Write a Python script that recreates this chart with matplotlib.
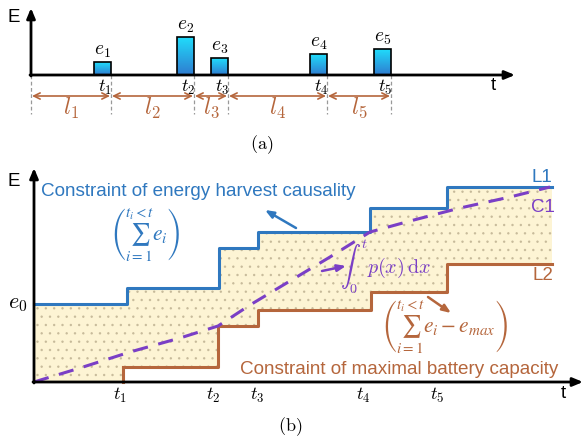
import matplotlib
matplotlib.use("Agg")
import matplotlib.pyplot as plt
import numpy as np
from matplotlib.colors import LinearSegmentedColormap

plt.rcParams['mathtext.fontset'] = 'cm'
plt.rcParams['font.family'] = ['Liberation Sans', 'DejaVu Sans']
plt.rcParams['hatch.linewidth'] = 0.6

# ---------------- data (pixel-space diagram coordinates) ----------------
# top panel: harvest events
top_t = [111, 194, 228, 327, 391]          # event times (right edge of bars)
top_e = [13, 38, 17, 21, 26]               # harvested energy heights
e_labels = [r'$e_1$', r'$e_2$', r'$e_3$', r'$e_4$', r'$e_5$']
t_labels = [r'$t_1$', r'$t_2$', r'$t_3$', r'$t_4$', r'$t_5$']
l_labels = [r'$l_1$', r'$l_2$', r'$l_3$', r'$l_4$', r'$l_5$']

# bottom panel: step constraints
L1_x = [34, 127, 219, 258, 370, 447, 552]
L1_y = [304, 288, 248, 232, 208, 187]
L2_x = [34, 123, 218, 258, 371, 447, 552]
L2_y = [382, 367, 326, 310, 292, 264]
C1_x = [34, 80, 130, 180, 218, 250, 290, 330, 370, 410, 460, 510, 550]
C1_y = [382, 368, 352, 338, 326, 305, 281, 257, 232, 221, 208, 197, 187]
bot_t = [120, 213, 257, 363, 437]

BLUE = '#2f78bf'
BROWN = '#b5663c'
PURPLE = '#7a3fc6'

fig = plt.figure(figsize=(5.83, 4.40), dpi=100)
ax = fig.add_axes([0, 0, 1, 1])
ax.set_xlim(0, 583)
ax.set_ylim(440, 0)
ax.axis('off')

AST = '-|>,head_width=0.25,head_length=0.6'

# ---------------- top panel ----------------
X0, Y0 = 31, 75
ax.annotate('', xy=(X0, 8), xytext=(X0, Y0 + 1),
            arrowprops=dict(arrowstyle=AST, color='black', lw=2, shrinkA=0, shrinkB=0))
ax.annotate('', xy=(515, Y0), xytext=(X0 - 1, Y0),
            arrowprops=dict(arrowstyle=AST, color='black', lw=2, shrinkA=0, shrinkB=0))
ax.text(14, 18, 'E', fontsize=13.5, ha='center', va='center')
ax.text(493, 86, 't', fontsize=13.5, ha='center', va='center')

grad = np.linspace(0, 1, 100).reshape(-1, 1)
cmap = LinearSegmentedColormap.from_list('g', ['#20dcfb', '#2f7cd0'])
bw = 17
for t, h, el in zip(top_t, top_e, e_labels):
    ax.imshow(grad, extent=(t - bw, t, Y0, Y0 - h), cmap=cmap, aspect='auto', zorder=2)
    ax.add_patch(plt.Rectangle((t - bw, Y0 - h), bw, h, fill=False, ec='black', lw=1.2, zorder=3))
    ax.text(t - bw / 2, Y0 - h - 2, el, fontsize=14, ha='center', va='bottom')

bounds = [X0] + top_t
for x in bounds:
    ax.plot([x, x], [Y0, 114], ls=(0, (3, 2)), color='#999999', lw=0.9, zorder=1)
for x, tl in zip(top_t, t_labels):
    ax.text(x + 1, 87, tl, fontsize=13, ha='right', va='center')
for i, ll in enumerate(l_labels):
    a, b = bounds[i], bounds[i + 1]
    ax.annotate('', xy=(b - 1, 96), xytext=(a + 1, 96),
                arrowprops=dict(arrowstyle='<->,head_width=0.22,head_length=0.45', color=BROWN, lw=1.2, shrinkA=0, shrinkB=0))
    ax.text((a + b) / 2, 108, ll, fontsize=17, color=BROWN, ha='center', va='center')

ax.text(262, 145, r'$\mathrm{(a)}$', fontsize=13, ha='center', va='center')

# ---------------- bottom panel ----------------
BX, BY = 34, 382
ux, uy = [], []
for i in range(len(L1_y)):
    ux += [L1_x[i], L1_x[i + 1]]
    uy += [L1_y[i], L1_y[i]]
lxx, lyy = [], []
for i in range(len(L2_y)):
    lxx += [L2_x[i], L2_x[i + 1]]
    lyy += [L2_y[i], L2_y[i]]
poly_x = ux + lxx[::-1]
poly_y = uy + lyy[::-1]
ax.fill(poly_x, poly_y, facecolor='#fdf4d4', edgecolor='none', zorder=1)
ax.fill(poly_x, poly_y, facecolor='none', edgecolor='#8a7a5a', hatch='..', lw=0, zorder=1, alpha=0.35)

ax.step(L1_x, L1_y + [L1_y[-1]], where='post', color=BLUE, lw=2.2, zorder=4)
ax.step(L2_x[1:], L2_y[1:] + [L2_y[-1]], where='post', color=BROWN, lw=2.2, zorder=4)
ax.plot([L2_x[1], L2_x[1]], [BY, L2_y[1]], color=BROWN, lw=2.2, zorder=4)
ax.plot(C1_x, C1_y, color=PURPLE, lw=2.2, ls=(0, (5, 3.5)), zorder=5)

ax.annotate('', xy=(BX, 168), xytext=(BX, BY + 1),
            arrowprops=dict(arrowstyle=AST, color='black', lw=2, shrinkA=0, shrinkB=0), zorder=6)
ax.annotate('', xy=(583, BY), xytext=(BX - 1, BY),
            arrowprops=dict(arrowstyle=AST, color='black', lw=2, shrinkA=0, shrinkB=0), zorder=6)
ax.text(14, 181, 'E', fontsize=13.5, ha='center', va='center')
ax.text(563, 393, 't', fontsize=13.5, ha='center', va='center')
ax.text(18, 304, r'$e_0$', fontsize=16, ha='center', va='center')
for x, tl in zip(bot_t, t_labels):
    ax.text(x, 395, tl, fontsize=13, ha='center', va='center')

ax.text(41, 191, 'Constraint of energy harvest causality', fontsize=13.6, color=BLUE, ha='left', va='center')
ax.text(145, 235, r'$\left(\sum_{i=1}^{t_i<t} e_i\right)$', fontsize=15.5, color=BLUE,
        ha='center', va='center', math_fontfamily='stix')
ax.annotate('', xy=(265, 210), xytext=(296, 228),
            arrowprops=dict(arrowstyle='-|>,head_width=0.2,head_length=0.5', color=BLUE, lw=1.8, shrinkA=0, shrinkB=0))
ax.text(542, 177, 'L1', fontsize=13.5, color=BLUE, ha='center', va='center')
ax.text(543, 208, 'C1', fontsize=13.5, color=PURPLE, ha='center', va='center')
ax.text(543, 275, 'L2', fontsize=13.5, color=BROWN, ha='center', va='center')

ax.text(340, 267, r'$\int_0^t p(x)\,\mathrm{d}x$', fontsize=14.5, color=PURPLE, ha='left', va='center', zorder=6)
ax.annotate('', xy=(346, 266), xytext=(322, 271),
            arrowprops=dict(arrowstyle='-|>,head_width=0.2,head_length=0.5', color=PURPLE, lw=1.8, shrinkA=0, shrinkB=0), zorder=6)

ax.text(445, 328, r'$\left(\sum_{i=1}^{t_i<t} e_i - e_{max}\right)$', fontsize=15.5, color=BROWN,
        ha='center', va='center', zorder=6, math_fontfamily='stix')
ax.annotate('', xy=(451, 313), xytext=(428, 297),
            arrowprops=dict(arrowstyle='-|>,head_width=0.2,head_length=0.5', color=BROWN, lw=1.8, shrinkA=0, shrinkB=0), zorder=6)
ax.text(240, 370, 'Constraint of maximal battery capacity', fontsize=13.6, color=BROWN, ha='left', va='center', zorder=6)

ax.text(290, 427, r'$\mathrm{(b)}$', fontsize=13, ha='center', va='center')

fig.savefig('out.png', dpi=100)
